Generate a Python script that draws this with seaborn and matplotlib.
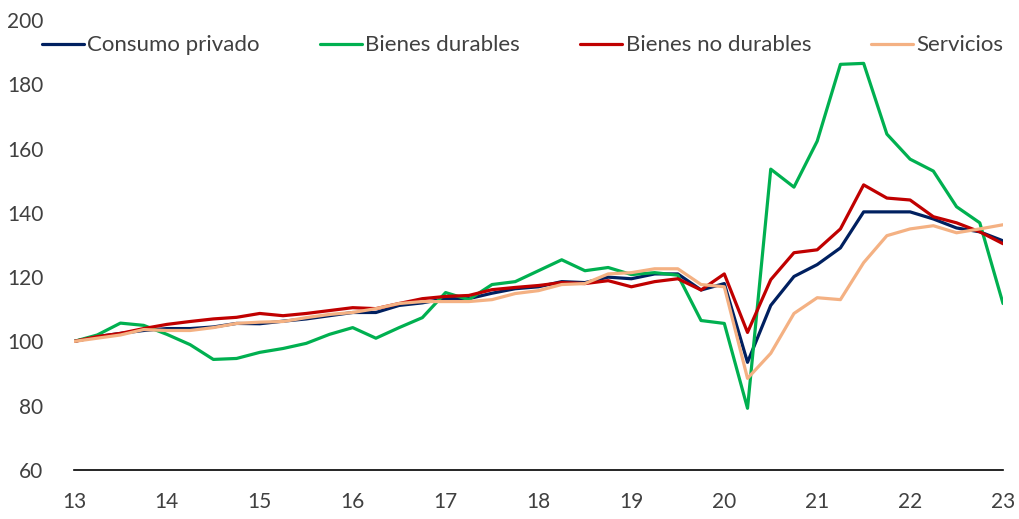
import numpy as np
import pandas as pd
import seaborn as sns
import matplotlib.pyplot as plt

# quarterly index, 2013Q1 = 100 (x in years, 13.00 .. 23.00)
quarters = [13 + q * 0.25 for q in range(41)]

consumo_privado = [
    100, 101.5, 102.5, 103.4, 104, 104, 104.5, 105.6, 105.5, 106.3,
    107, 108, 109, 109, 111.2, 112, 113.3, 113.3, 115, 116.4,
    117, 118.6, 118.3, 120, 119.5, 121, 121, 116, 118, 93.5,
    111.2, 120.2, 123.9, 129.1, 140.3, 140.3, 140.3, 138.1, 135.3, 134.1,
    131.3,
]
bienes_durables = [
    100, 102, 105.7, 105, 102.2, 99, 94.4, 94.7, 96.6, 97.8,
    99.4, 102.2, 104.3, 101, 104.3, 107.4, 115.2, 113, 117.7, 118.6,
    122, 125.4, 122, 123, 120.8, 121.4, 120.6, 106.5, 105.6, 79.2,
    153.6, 148, 162.3, 186.2, 186.5, 164.5, 156.7, 153, 141.9, 136.9,
    111.8,
]
bienes_no_durables = [
    100, 101.5, 102.5, 104, 105.3, 106.2, 107, 107.5, 108.7, 108,
    108.7, 109.6, 110.5, 110.2, 111.8, 113.3, 114, 114.3, 116.1, 116.8,
    117.4, 118.3, 118, 118.9, 117, 118.6, 119.5, 116, 121, 102.8,
    119.2, 127.6, 128.5, 135, 148.7, 144.6, 144, 138.8, 136.9, 134.1,
    130.4,
]
servicios = [
    100, 101, 102, 103.7, 103.4, 103.4, 104.3, 105.6, 106, 106.2,
    107.4, 108.4, 109, 110.2, 111.8, 112.4, 112.4, 112.4, 113, 114.9,
    115.8, 117.7, 118, 121, 121.4, 122.6, 122.6, 117.7, 117, 88.5,
    96.3, 108.7, 113.6, 113, 124.5, 132.9, 135, 136, 133.8, 135,
    136.3,
]

series_names = ["Consumo privado", "Bienes durables", "Bienes no durables", "Servicios"]
colors = ["#002060", "#00B050", "#C00000", "#F4B183"]
year_ticks = list(range(13, 24))

df = pd.DataFrame({
    "t": quarters,
    "Consumo privado": consumo_privado,
    "Bienes durables": bienes_durables,
    "Bienes no durables": bienes_no_durables,
    "Servicios": servicios,
})
long = df.melt(id_vars="t", var_name="serie", value_name="valor")

sns.set_style("white")
plt.rcParams["font.family"] = ["Lato", "DejaVu Sans"]

fig = plt.figure(figsize=(10.19, 5.19), dpi=100)
ax = fig.add_axes([0.0726, 0.0944, 0.9117, 0.8671])

sns.lineplot(
    data=long, x="t", y="valor", hue="serie",
    hue_order=series_names, palette=colors,
    linewidth=2.3, ax=ax,
)

ax.set_xlim(13, 23)
ax.set_ylim(60, 200)
ax.set_xticks(year_ticks)
ax.set_xticklabels([str(y) for y in year_ticks])
ax.set_yticks(range(60, 201, 20))
ax.set_xlabel("")
ax.set_ylabel("")

for side in ["top", "right", "left"]:
    ax.spines[side].set_visible(False)
ax.spines["bottom"].set_color("black")
ax.spines["bottom"].set_linewidth(1.2)
ax.tick_params(axis="x", direction="out", length=6, width=1, color="black",
               labelsize=15, pad=10, labelcolor="#404040")
ax.tick_params(axis="y", length=0, labelsize=15, pad=22, labelcolor="#404040")

ax.legend(
    loc="upper center", bbox_to_anchor=(0.483, 1.01), ncol=4, frameon=False,
    fontsize=16, handlelength=1.9, handletextpad=0.15, columnspacing=2.7,
    labelcolor="#404040",
)

fig.savefig("out.png", dpi=100)
